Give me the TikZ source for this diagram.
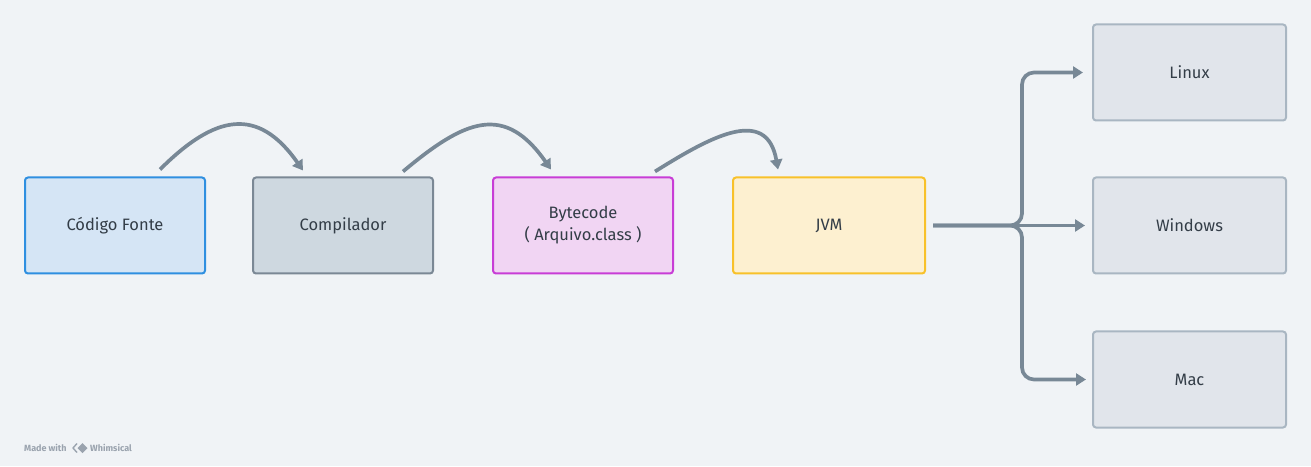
\documentclass[tikz,border=0pt]{standalone}
\usepackage{fontspec}
\setmainfont{Fira Sans}
\usetikzlibrary{shapes,arrows.meta,positioning}
\definecolor{bgcol}{HTML}{F0F3F6}
\definecolor{txtcol}{HTML}{333D47}
\definecolor{linecol}{HTML}{788896}
\definecolor{srcfill}{HTML}{D5E5F5}
\definecolor{srcdraw}{HTML}{2F8FE0}
\definecolor{compfill}{HTML}{CED8E0}
\definecolor{compdraw}{HTML}{7B8895}
\definecolor{bcfill}{HTML}{F1D5F3}
\definecolor{bcdraw}{HTML}{C83DD6}
\definecolor{vmfill}{HTML}{FDF0D0}
\definecolor{vmdraw}{HTML}{F8C12A}
\definecolor{osfill}{HTML}{E1E5EB}
\definecolor{osdraw}{HTML}{A9B6C2}
\definecolor{markcol}{HTML}{9AA3AE}
\tikzstyle{box} = [rectangle, draw, line width=2pt, rounded corners=3pt, minimum width=180pt, minimum height=96pt, text=txtcol, font=\fontsize{16.5}{19}\selectfont, align=center]
\tikzstyle{source} = [box, fill=srcfill, draw=srcdraw]
\tikzstyle{compiler} = [box, fill=compfill, draw=compdraw]
\tikzstyle{bytecode} = [box, fill=bcfill, draw=bcdraw]
\tikzstyle{vm} = [box, fill=vmfill, draw=vmdraw, minimum width=192pt]
\tikzstyle{os} = [box, fill=osfill, draw=osdraw, minimum width=193pt]
\tikzstyle{flow} = [draw=linecol, line width=3.7pt, -{Triangle[length=10pt,width=12pt]}]
\tikzstyle{credit} = [text=markcol, font=\fontsize{9}{11}\selectfont\bfseries, inner sep=0pt]

\begin{document}
\begin{tikzpicture}[node distance=228pt, >=stealth]
   \fill[bgcol] (0pt,0pt) rectangle (1311pt,466pt);
   \useasboundingbox (0pt,0pt) rectangle (1311pt,466pt);
   % nodes
   \node[source] (cf) at (115pt,240.5pt)                     {Código Fonte};
   \node[compiler] (comp) [right of=cf]                       {Compilador};
   \node[bytecode] (bc) [right of=comp, node distance=240pt]  {Bytecode\\[3pt]( Arquivo.class )};
   \node[vm] (jvm) [right of=bc, node distance=246pt]         {JVM};
   \node[os] (win) [right of=jvm, node distance=360.5pt]      {Windows};
   \node[os] (linux) [above of=win, node distance=153pt]      {Linux};
   \node[os] (mac) [below of=win, node distance=154pt]        {Mac};
   \node[credit, anchor=west] (made) at (24pt,18pt)           {Made with};
   \node[credit, anchor=west] (whim) at (90pt,18pt)           {Whimsical};

   % logo
   \draw[markcol, line width=1.4pt, line join=round] (77pt,22.5pt) -- (73pt,18pt) -- (77pt,13.5pt);
   \fill[markcol] (82.5pt,23pt) -- (87.5pt,18pt) -- (82.5pt,13pt) -- (77.5pt,18pt) -- cycle;

   % coordinates
   \coordinate (a1) at ([shift={(45pt,7pt)}]cf.north);
   \coordinate (b1) at ([shift={(-40pt,6pt)}]comp.north);
   \coordinate (a2) at ([shift={(60pt,5pt)}]comp.north);
   \coordinate (b2) at ([shift={(-32pt,7pt)}]bc.north);
   \coordinate (a3) at ([shift={(72pt,5pt)}]bc.north);
   \coordinate (b3) at ([shift={(-51pt,7pt)}]jvm.north);
   \coordinate (split) at ([xshift=96pt]jvm.east);

   % edges
	\draw[flow] (a1) to [out=45, in=125, looseness=1.4] (b1);
	\draw[flow] (a2) to [out=40, in=125, looseness=1.4] (b2);
	\draw[flow] (a3) to [out=32, in=100, looseness=1.35] (b3);
	\draw[flow] ([xshift=7pt]jvm.east) -- ([xshift=-7pt]win.west);
	\draw[flow, rounded corners=12pt] ([xshift=7pt]jvm.east) -- (split) |- ([xshift=-9pt]linux.west);
	\draw[flow, rounded corners=12pt] ([xshift=7pt]jvm.east) -- (split) |- ([xshift=-6pt]mac.west);
  \end{tikzpicture}
\end{document}
